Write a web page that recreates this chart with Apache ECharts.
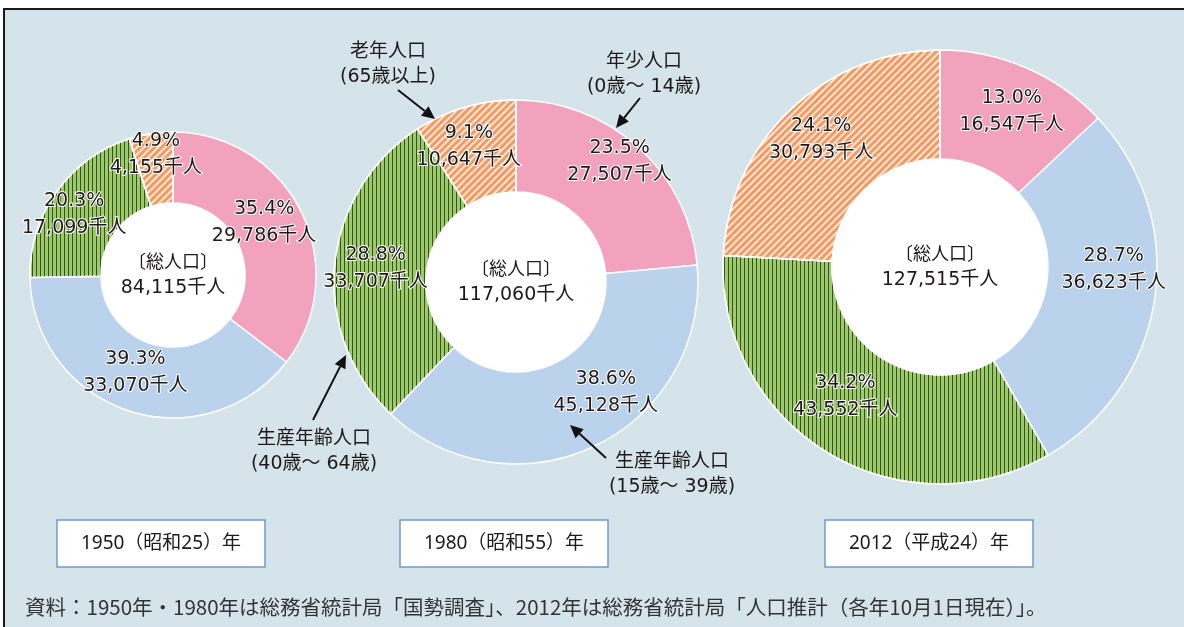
<!DOCTYPE html>
<html lang="ja">
<head>
<meta charset="UTF-8">
<title>年齢3区分別人口の構成</title>
<script src="https://cdn.jsdelivr.net/npm/echarts@6/dist/echarts.min.js"></script>
<style>html,body{margin:0;padding:0;background:#fff;}</style>
</head>
<body>
<div id="main" style="width:1184px;height:627px"></div>
<script>
// data (千人 / %)
var years = ['1950（昭和25）年', '1980（昭和55）年', '2012（平成24）年'];
var groups = ['年少人口', '生産年齢人口（15歳～39歳）', '生産年齢人口（40歳～64歳）', '老年人口'];
var pop1950 = [29786, 33070, 17099, 4155];
var pop1980 = [27507, 45128, 33707, 10647];
var pop2012 = [16547, 36623, 43552, 30793];
var pct1950 = ['35.4', '39.3', '20.3', '4.9'];
var pct1980 = ['23.5', '38.6', '28.8', '9.1'];
var pct2012 = ['13.0', '28.7', '34.2', '24.1'];
var totals = [84115, 117060, 127515];

var pops = [pop1950, pop1980, pop2012];
var pcts = [pct1950, pct1980, pct2012];

// layout
var centers = [[173, 275], [516, 282], [940, 267]];
var radii = [[72, 143], [90, 182], [108, 217]];
var nudge = [
    [[-8, -4], [-3, -7], [-9, 4], [0, -11]],
    [[10, -18], [29, -14], [-2, 0], [-8, -2]],
    [[6, -4], [10, -22], [-8, -11], [-5, -7]]
];
var boxX = [57, 400, 825];

var FONT = '"Noto Sans CJK JP", "Noto Sans", sans-serif';
var NUMFONT = '"DejaVu Sans", "Noto Sans CJK JP", sans-serif';
var BOXFONT = '"Liberation Sans Narrow", "Noto Sans", "Noto Sans CJK JP", sans-serif';
var TXT = '#1e1a18';

var colors = ['#f3a2be', '#bad2ec', '#9dca6c', '#f39a63'];
var decals = [
    null,
    null,
    {symbol: 'rect', symbolSize: 1, dashArrayX: [1, 3], dashArrayY: [1, 0], color: 'rgba(35,60,15,0.85)'},
    {symbol: 'rect', symbolSize: 1, dashArrayX: [1, 0], dashArrayY: [2, 3], rotation: -Math.PI / 4, color: 'rgba(255,255,255,0.75)'}
];

function fmt(n) {
    return String(n).replace(/\B(?=(\d{3})+(?!\d))/g, ',');
}

var series = [];
pops.forEach(function (vals, s) {
    series.push({
        type: 'pie',
        name: years[s],
        center: centers[s],
        radius: radii[s],
        startAngle: 90,
        clockwise: true,
        silent: true,
        itemStyle: {borderColor: '#fff', borderWidth: 1.5},
        label: {
            show: true,
            position: 'inside',
            fontFamily: NUMFONT,
            fontSize: 19,
            lineHeight: 27,
            color: TXT,
            textBorderColor: '#fff',
            textBorderWidth: 2,
            formatter: function (p) {
                return pcts[s][p.dataIndex] + '%\n' + fmt(p.value) + '千人';
            }
        },
        labelLine: {show: false},
        labelLayout: function (p) {
            var d = nudge[s][p.dataIndex];
            return {dx: d[0], dy: d[1]};
        },
        data: vals.map(function (v, i) {
            var it = {name: groups[i], value: v, itemStyle: {color: colors[i]}};
            if (decals[i]) it.itemStyle.decal = decals[i];
            return it;
        })
    });
});
// white holes with the total in the middle
totals.forEach(function (t, s) {
    series.push({
        type: 'pie',
        center: centers[s],
        radius: [0, radii[s][0]],
        silent: true,
        itemStyle: {color: '#fff'},
        label: {
            show: true,
            position: 'center',
            color: TXT,
            formatter: '{a|〔総人口〕}\n{b|' + fmt(t) + '千人}',
            rich: {
                a: {fontFamily: FONT, fontSize: 18, lineHeight: 27, color: TXT},
                b: {fontFamily: NUMFONT, fontSize: 19, lineHeight: 27, color: TXT}
            }
        },
        labelLine: {show: false},
        data: [{name: '総人口', value: t}]
    });
});

function arrow(x1, y1, x2, y2) {
    var a = Math.atan2(y2 - y1, x2 - x1), L = 13, W = 6;
    var bx = x2 - L * Math.cos(a), by = y2 - L * Math.sin(a);
    return [
        {type: 'line', z: 20, shape: {x1: x1, y1: y1, x2: bx, y2: by}, style: {stroke: '#111', lineWidth: 2}},
        {type: 'polygon', z: 20, shape: {points: [[x2, y2], [bx - W * Math.sin(a), by + W * Math.cos(a)], [bx + W * Math.sin(a), by - W * Math.cos(a)]]}, style: {fill: '#111'}}
    ];
}

function note(x, y, txt) {
    return {type: 'text', z: 20, x: x, y: y, style: {text: txt, font: '19px ' + NUMFONT, fill: TXT, align: 'center', verticalAlign: 'middle', lineHeight: 25}};
}

var g = [
    {type: 'rect', z: -10, shape: {x: 4, y: 9, width: 1200, height: 640}, style: {fill: '#d5e3ea', stroke: '#1a1a1a', lineWidth: 2}},
    note(388, 65, '老年人口\n(65歳以上)'),
    note(644, 75, '年少人口\n(0歳～ 14歳)'),
    note(314, 452, '生産年齢人口\n(40歳～ 64歳)'),
    note(672, 475, '生産年齢人口\n(15歳～ 39歳)')
]
    .concat(arrow(398, 90, 435, 119))
    .concat(arrow(640, 98, 616, 128))
    .concat(arrow(313, 420, 346, 355))
    .concat(arrow(606, 458, 570, 425));

years.forEach(function (y, i) {
    g.push({type: 'rect', z: 20, shape: {x: boxX[i], y: 520, width: 208, height: 47}, style: {fill: '#fff', stroke: '#6d9bd1', lineWidth: 1.5}});
    g.push({type: 'text', z: 21, x: boxX[i] + 104, y: 544, style: {text: y, font: '19px ' + BOXFONT, fill: TXT, align: 'center', verticalAlign: 'middle'}});
});
g.push({type: 'text', z: 21, x: 25, y: 607, style: {text: '資料：1950年・1980年は総務省統計局「国勢調査」、2012年は総務省統計局「人口推計（各年10月1日現在）」。', font: '20.5px ' + FONT, fill: '#333', align: 'left', verticalAlign: 'middle'}});

var myChart = echarts.init(document.getElementById('main'));
var option = {
    backgroundColor: '#fff',
    animation: false,
    graphic: g,
    series: series
};
myChart.setOption(option);
</script>
</body>
</html>
